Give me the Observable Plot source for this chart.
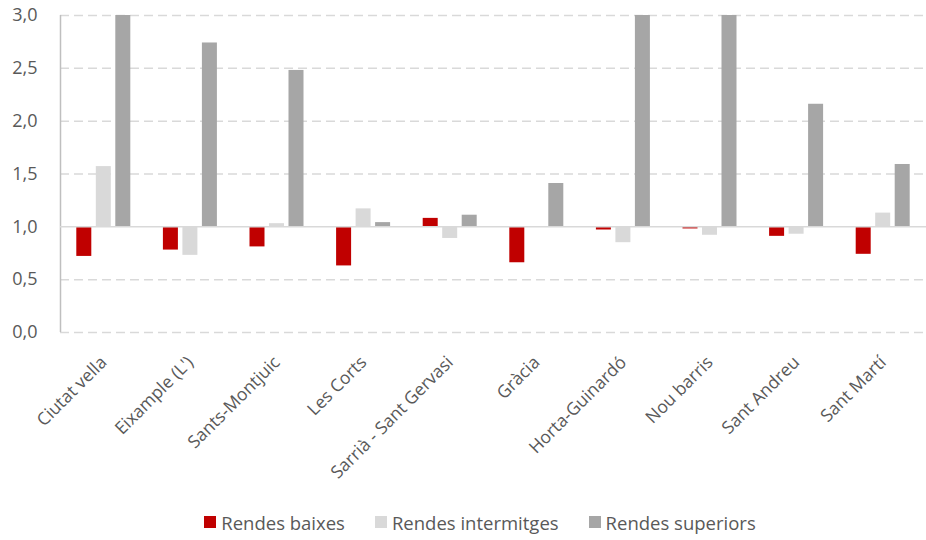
<!DOCTYPE html>
<html>
<head>
<meta charset="utf-8">
<script src="https://cdn.jsdelivr.net/npm/d3@7"></script>
<script src="https://cdn.jsdelivr.net/npm/@observablehq/plot@0.6"></script>
<style>
  body { margin: 0; background: #fff; font-family: "Open Sans", sans-serif; }
  #legend { display: flex; justify-content: center; align-items: center; height: 40px; padding-left: 34px; padding-top: 2px; color: #595959; font-size: 18.5px; }
  .item { display: flex; align-items: center; margin: 0 15px; }
  .sw { width: 12px; height: 12px; margin-right: 5px; }
</style>
</head>
<body>
<div id="chart"></div>
<div id="legend"></div>
<script>
const districts = ["Ciutat vella", "Eixample (L')", "Sants-Montjuic", "Les Corts", "Sarrià - Sant Gervasi", "Gràcia", "Horta-Guinardó", "Nou barris", "Sant Andreu", "Sant Martí"];
const series = ["Rendes baixes", "Rendes intermitges", "Rendes superiors"];
const baixes = [0.72, 0.78, 0.81, 0.63, 1.08, 0.66, 0.97, 0.98, 0.91, 0.74];
const intermitges = [1.57, 0.73, 1.03, 1.17, 0.89, 1.00, 0.85, 0.92, 0.93, 1.13];
const superiors = [3.0, 2.74, 2.48, 1.04, 1.11, 1.41, 3.0, 3.0, 2.16, 1.59];
const yTicks = [0, 0.5, 1, 1.5, 2, 2.5, 3];
const colors = ["#c00000", "#d9d9d9", "#a6a6a6"];

const data = districts.map((d, i) => ({district: d, baixes: baixes[i], intermitges: intermitges[i], superiors: superiors[i]}));

const inset = 35.8;
const chart = Plot.plot({
  width: 926,
  height: 500,
  marginLeft: 60,
  marginRight: 0,
  marginTop: 15,
  marginBottom: 168,
  style: {fontFamily: "Open Sans", fontSize: "17.5px", color: "#595959", background: "#fff"},
  x: {domain: districts, padding: 0, round: false, tickSize: 0, tickRotate: -45, tickPadding: 27, label: null},
  y: {domain: [0, 3], ticks: yTicks, tickSize: 0, tickPadding: 23, label: null, tickFormat: d => d.toFixed(1).replace(".", ",")},
  marks: [
    Plot.ruleY(yTicks.filter(t => t !== 1), {stroke: "#d9d9d9", strokeWidth: 1.5, strokeDasharray: "9,5"}),
    Plot.ruleX(data.slice(0, 1), {x: "district", y1: 0, y2: 3, dx: -43.3, stroke: "#bfbfbf", strokeWidth: 1.5}),
    Plot.barY(data, {x: "district", y1: 1, y2: "baixes", fill: colors[0], dx: -19.5, insetLeft: inset, insetRight: inset}),
    Plot.barY(data, {x: "district", y1: 1, y2: "intermitges", fill: colors[1], insetLeft: inset, insetRight: inset}),
    Plot.barY(data, {x: "district", y1: 1, y2: "superiors", fill: colors[2], dx: 19.5, insetLeft: inset, insetRight: inset}),
    Plot.ruleY([1], {stroke: "#d9d9d9", strokeWidth: 1.5})
  ]
});
document.getElementById("chart").appendChild(chart);
d3.select(chart).selectAll('g[aria-label^="y-axis"] text').attr("font-size", "18px");

const legend = d3.select("#legend");
series.forEach((s, i) => {
  const it = legend.append("div").attr("class", "item");
  it.append("div").attr("class", "sw").style("background", colors[i]);
  it.append("span").text(s);
});
</script>
</body>
</html>
